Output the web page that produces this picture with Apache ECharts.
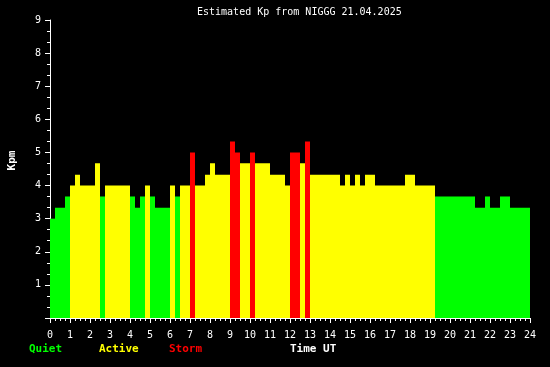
<!DOCTYPE html>
<html>
<head>
<meta charset="utf-8">
<script src="https://cdn.jsdelivr.net/npm/echarts@6/dist/echarts.min.js"></script>
<style>
html,body{margin:0;padding:0;background:#000;}
#chart{width:550px;height:367px;}
</style>
</head>
<body>
<div id="chart"></div>
<script>
// Estimated Kp, one value per 15-minute slot (96 slots, 00:00 .. 23:45 UT)
var kpValues = [
  3.0, 3.33, 3.33, 3.67, 4.0, 4.33, 4.0, 4.0, 4.0, 4.67, 3.67, 4.0,
  4.0, 4.0, 4.0, 4.0, 3.67, 3.33, 3.67, 4.0, 3.67, 3.33, 3.33, 3.33,
  4.0, 3.67, 4.0, 4.0, 5.0, 4.0, 4.0, 4.33, 4.67, 4.33, 4.33, 4.33,
  5.33, 5.0, 4.67, 4.67, 5.0, 4.67, 4.67, 4.67, 4.33, 4.33, 4.33, 4.0,
  5.0, 5.0, 4.67, 5.33, 4.33, 4.33, 4.33, 4.33, 4.33, 4.33, 4.0, 4.33,
  4.0, 4.33, 4.0, 4.33, 4.33, 4.0, 4.0, 4.0, 4.0, 4.0, 4.0, 4.33,
  4.33, 4.0, 4.0, 4.0, 4.0, 3.67, 3.67, 3.67, 3.67, 3.67, 3.67, 3.67,
  3.67, 3.33, 3.33, 3.67, 3.33, 3.33, 3.67, 3.67, 3.33, 3.33, 3.33, 3.33
];
var slotsPerHour = 4;
var hourTicks = [0,1,2,3,4,5,6,7,8,9,10,11,12,13,14,15,16,17,18,19,20,21,22,23,24];
var kpTicks = [1,2,3,4,5,6,7,8,9];
var levelNames = ['Quiet', 'Active', 'Storm'];
var levelColors = ['#00ff00', '#ffff00', '#ff0000'];
var levelThresholds = [4, 5];

var slotCategories = kpValues.map(function (v, i) {
  var h = Math.floor(i / slotsPerHour), m = (i % slotsPerHour) * 15;
  return (h < 10 ? '0' : '') + h + ':' + (m < 10 ? '0' : '') + m;
});

function levelOf(v) {
  if (v >= levelThresholds[1] - 1e-6) return 2;
  if (v >= levelThresholds[0] - 1e-6) return 1;
  return 0;
}

var font = 'DejaVu Sans Mono';
var chart = echarts.init(document.getElementById('chart'), null, {renderer: 'canvas'});
chart.setOption({
  backgroundColor: '#000000',
  animation: false,
  title: {
    text: 'Estimated Kp from NIGGG 21.04.2025',
    left: 197,
    top: 4,
    padding: 0,
    textStyle: {color: '#ffffff', fontFamily: font, fontSize: 10, fontWeight: 'normal', lineHeight: 16}
  },
  grid: {left: 50, right: 20, top: 20, bottom: 49, containLabel: false},
  xAxis: [
    {
      type: 'category',
      data: slotCategories,
      show: false,
      boundaryGap: true
    },
    {
      type: 'value',
      min: hourTicks[0],
      max: hourTicks[hourTicks.length - 1],
      interval: 1,
      position: 'bottom',
      axisLine: {show: true, lineStyle: {color: '#ffffff', width: 1}},
      axisTick: {show: true, inside: false, length: 5, lineStyle: {color: '#ffffff'}},
      minorTick: {show: true, splitNumber: 4, length: 3, lineStyle: {color: '#ffffff'}},
      splitLine: {show: false},
      axisLabel: {color: '#ffffff', fontFamily: font, fontSize: 10, margin: 12}
    }
  ],
  yAxis: {
    type: 'value',
    min: 0,
    max: 9,
    interval: 1,
    axisLine: {show: true, lineStyle: {color: '#ffffff', width: 1}},
    axisTick: {show: true, inside: false, length: 5, lineStyle: {color: '#ffffff'}},
    minorTick: {show: true, splitNumber: 3, length: 3, lineStyle: {color: '#ffffff'}},
    splitLine: {show: false},
    axisLabel: {
      color: '#ffffff', fontFamily: font, fontSize: 10, margin: 9,
      formatter: function (v) { return kpTicks.indexOf(v) >= 0 ? String(v) : ''; }
    }
  },
  series: [{
    type: 'bar',
    xAxisIndex: 0,
    data: kpValues,
    barCategoryGap: '0%',
    barGap: '0%',
    itemStyle: {
      color: function (p) { return levelColors[levelOf(p.value)]; }
    },
    z: 1
  }],
  graphic: [
    {type: 'text', left: 29, top: 344, style: {text: levelNames[0], fill: levelColors[0], font: 'bold 11px ' + font}},
    {type: 'text', left: 99, top: 344, style: {text: levelNames[1], fill: levelColors[1], font: 'bold 11px ' + font}},
    {type: 'text', left: 169, top: 344, style: {text: levelNames[2], fill: levelColors[2], font: 'bold 11px ' + font}},
    {type: 'text', left: 290, top: 344, style: {text: 'Time UT', fill: '#ffffff', font: 'bold 11px ' + font}},
    {type: 'text', x: 12, y: 160.5, rotation: Math.PI / 2,
     style: {text: 'Kpm', fill: '#ffffff', font: 'bold 11px ' + font, textAlign: 'center', textVerticalAlign: 'middle'}}
  ]
});
</script>
</body>
</html>
